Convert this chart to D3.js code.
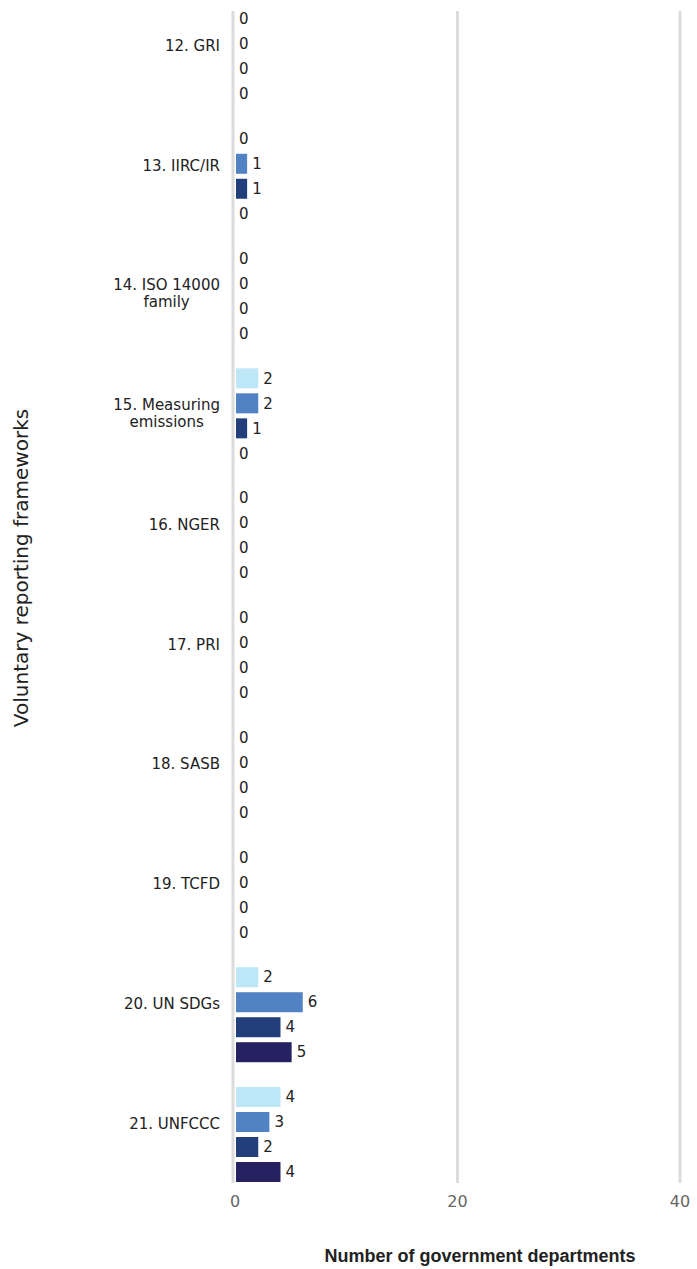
<!DOCTYPE html>
<html><head><meta charset="utf-8">
<script src="https://cdn.jsdelivr.net/npm/d3@7"></script>
<style>html,body{margin:0;padding:0;background:#fff;}svg{display:block;}</style>
</head><body>
<svg id="chart" width="697" height="1269"></svg>
<script>
const categories = ["12. GRI","13. IIRC/IR","14. ISO 14000|family","15. Measuring|emissions","16. NGER","17. PRI","18. SASB","19. TCFD","20. UN SDGs","21. UNFCCC"];
const seriesNames = ["Series 1","Series 2","Series 3","Series 4"];
const series1 = [0,0,0,2,0,0,0,0,2,4];
const series2 = [0,1,0,2,0,0,0,0,6,3];
const series3 = [0,1,0,1,0,0,0,0,4,2];
const series4 = [0,0,0,0,0,0,0,0,5,4];
const seriesColors = ["#bde7f6","#5182c4","#223f7c","#262261"];
const xTicks = [0,20,40];
const xTitle = "Number of government departments";
const yTitle = "Voluntary reporting frameworks";

const allSeries = [series1,series2,series3,series4];
const W = 697, H = 1269;
const svg = d3.select("#chart");
const font = "'DejaVu Sans', 'Open Sans', sans-serif";
const boldFont = "'Liberation Sans', Arial, sans-serif";

const x = d3.scaleLinear().domain([0,40]).range([235,680]);
const y0 = d3.scaleBand().domain(categories).range([9,1182]).paddingInner(0.207).paddingOuter(0);
const y1 = d3.scaleBand().domain(seriesNames).range([0,y0.bandwidth()]).paddingInner(0.2).paddingOuter(0);

// gridlines
svg.append("g").selectAll("line").data(xTicks).join("line")
  .attr("x1", d => x(d) - (d===0?2:0)).attr("x2", d => x(d) - (d===0?2:0))
  .attr("y1", 11).attr("y2", 1183)
  .attr("stroke", "#dcdcdc").attr("stroke-width", 3);

// bars
const groups = svg.append("g").selectAll("g").data(categories).join("g")
  .attr("transform", c => `translate(0,${y0(c)})`);
groups.each(function(c, i){
  const g = d3.select(this);
  const vals = allSeries.map((s, k) => ({name: seriesNames[k], v: s[i], k}));
  g.selectAll("rect").data(vals.filter(d => d.v > 0)).join("rect")
    .attr("x", x(0)+1).attr("y", d => y1(d.name))
    .attr("width", d => x(d.v) - x(0)).attr("height", y1.bandwidth())
    .attr("fill", d => seriesColors[d.k]);
  g.selectAll("text").data(vals).join("text")
    .attr("x", d => x(d.v) + (d.v>0?6:4)).attr("y", d => y1(d.name) + y1.bandwidth()/2)
    .attr("dy", "0.35em")
    .attr("font-family", font).attr("font-size", 15).attr("fill", "#222")
    .text(d => d.v);
});

// category labels
svg.append("g").selectAll("text").data(categories).join("text")
  .attr("text-anchor", "end")
  .attr("font-family", font).attr("font-size", 15).attr("fill", "#222")
  .each(function(c){
    const lines = c.split("|");
    const cy = y0(c) + y0.bandwidth()/2 - 11;
    const t = d3.select(this);
    lines.forEach((ln, j) => {
      t.append("tspan").attr("x", 220).attr("y", cy + j*17).attr("dy","0.35em").text(ln);
    });
    if (lines.length > 1) {
      const first = t.select("tspan").node();
      const fw = first.getComputedTextLength();
      t.selectAll("tspan").filter((d,j)=>j>0).each(function(){
        const w = this.getComputedTextLength();
        d3.select(this).attr("x", 220 - (fw - w)/2);
      });
    }
  });

// x tick labels
svg.append("g").selectAll("text").data(xTicks).join("text")
  .attr("x", d => Math.min(x(d), W - 11)).attr("y", 1201).attr("dy","0.35em")
  .attr("text-anchor", "middle")
  .attr("font-family", font).attr("font-size", 16).attr("fill", "#666")
  .text(d => d);

// x title
svg.append("text").attr("x", 480).attr("y", 1256).attr("dy","0.35em")
  .attr("text-anchor","middle").attr("font-family", boldFont).attr("font-size", 18)
  .attr("font-weight","bold").attr("fill","#222").text(xTitle);

// y title
svg.append("text").attr("transform","translate(21,568) rotate(-90)").attr("dy","0.35em")
  .attr("text-anchor","middle").attr("font-family", font).attr("font-size", 20)
  .attr("fill","#222").text(yTitle);
</script>
</body></html>
